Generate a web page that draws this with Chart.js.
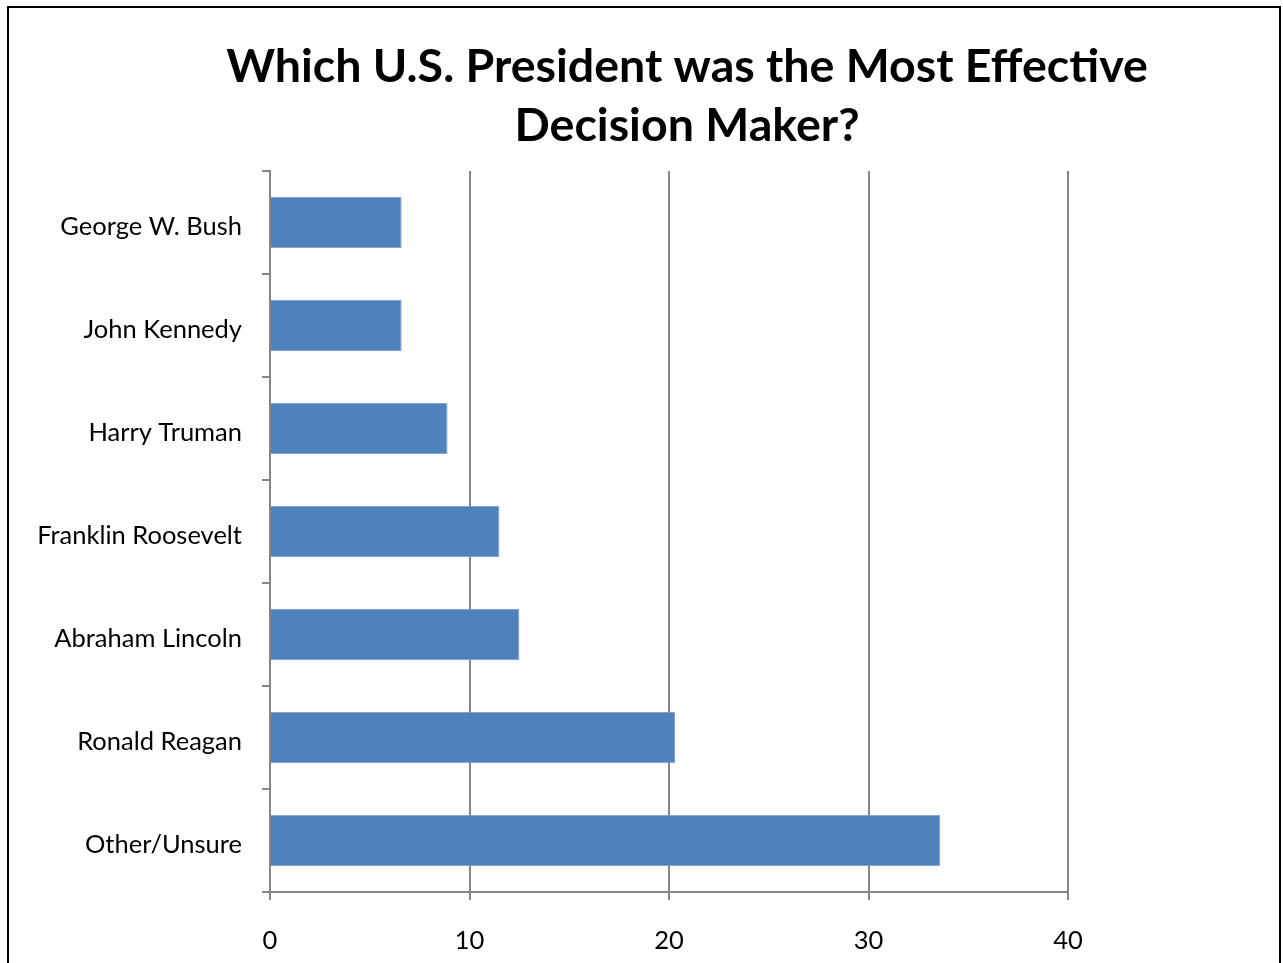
<!DOCTYPE html>
<html>
<head>
<meta charset="utf-8">
<script src="https://cdn.jsdelivr.net/npm/chart.js@4/dist/chart.umd.min.js"></script>
<style>
  html, body { margin: 0; padding: 0; background: #fff; }
  #wrap { position: relative; width: 1283px; height: 963px; }
</style>
</head>
<body>
<div id="wrap"><canvas id="c" width="1283" height="963"></canvas></div>
<script>
const categories = ['George W. Bush', 'John Kennedy', 'Harry Truman', 'Franklin Roosevelt', 'Abraham Lincoln', 'Ronald Reagan', 'Other/Unsure'];
const values = [6.6, 6.6, 8.9, 11.5, 12.5, 20.3, 33.6];
const titleLines = ['Which U.S. President was the Most Effective', 'Decision Maker?'];
const xTicks = [0, 10, 20, 30, 40];

const FONT = 'Lato, "Open Sans", "DejaVu Sans", sans-serif';
const mctx = document.createElement('canvas').getContext('2d');
function fitSize(text, weight, target) {
  mctx.font = weight + ' 40px ' + FONT;
  return 40 * target / mctx.measureText(text).width;
}
const titleSize = fitSize(titleLines[0], 'bold', 922);
const labelSize = fitSize('Franklin Roosevelt', 'normal', 205);

const framePlugin = {
  id: 'frame',
  beforeDraw(chart) {
    const c = chart.ctx;
    c.save();
    c.fillStyle = '#fff';
    c.fillRect(0, 0, chart.width, chart.height);
    c.strokeStyle = '#000';
    c.lineWidth = 2;
    c.strokeRect(8, 7, 1272, 1000);
    c.fillStyle = '#000';
    c.font = 'bold ' + titleSize + 'px ' + FONT;
    c.textAlign = 'center';
    c.textBaseline = 'alphabetic';
    c.fillText(titleLines[0], 687, 82);
    c.fillText(titleLines[1], 687, 141);
    c.restore();
  }
};

new Chart(document.getElementById('c'), {
  type: 'bar',
  data: {
    labels: categories,
    datasets: [{
      data: values,
      backgroundColor: '#4F81BD',
      borderColor: '#7D9FCD',
      borderWidth: 1,
      barPercentage: 0.5,
      categoryPercentage: 1.0
    }]
  },
  options: {
    indexAxis: 'y',
    responsive: false,
    animation: false,
    devicePixelRatio: 1,
    layout: { padding: { top: 171, right: 215, left: 0, bottom: 0 } },
    plugins: { legend: { display: false }, title: { display: false }, tooltip: { enabled: false } },
    scales: {
      x: {
        min: 0, max: 40,
        afterBuildTicks(scale) { scale.ticks = xTicks.map(v => ({ value: v })); },
        grid: { color: '#868686', lineWidth: 2, tickLength: 8, drawTicks: true },
        border: { color: '#868686', width: 2 },
        ticks: { color: '#000', font: { family: FONT, size: labelSize }, padding: 25 },
        afterFit(scale) { scale.height = 71; }
      },
      y: {
        grid: { display: true, drawOnChartArea: false, drawTicks: true, tickLength: 8, color: '#868686', lineWidth: 2, offset: true },
        border: { color: '#868686', width: 2 },
        ticks: { color: '#000', font: { family: FONT, size: labelSize }, padding: 20, labelOffset: 4 },
        afterFit(scale) { scale.width = 270; }
      }
    }
  },
  plugins: [framePlugin]
});
</script>
</body>
</html>
